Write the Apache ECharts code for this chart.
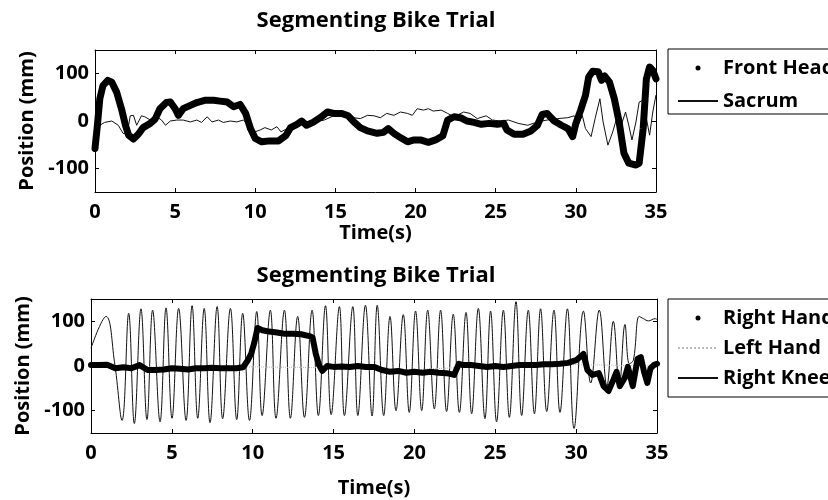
<!DOCTYPE html>
<html>
<head>
<meta charset="utf-8">
<script src="https://cdn.jsdelivr.net/npm/echarts@6/dist/echarts.min.js"></script>
<style>html,body{margin:0;padding:0;background:#fff;}#c{width:828px;height:500px;}</style>
</head>
<body>
<div id="c"></div>
<script>
// ---- data ----
var titles = ['Segmenting Bike Trial', 'Segmenting Bike Trial'];
var xTicks = [0, 5, 10, 15, 20, 25, 30, 35];
var yTicks = [-100, 0, 100];

var frontHeadT = [0,0.15,0.3,0.5,0.8,1.05,1.35,1.65,1.9,2.1,2.4,2.7,3.0,3.45,3.75,4.05,4.45,4.7,5.0,5.2,5.5,5.95,6.35,6.9,7.4,7.8,8.25,8.65,9.05,9.4,9.7,10.0,10.4,10.9,11.45,11.9,12.2,12.6,12.9,13.2,13.6,14.05,14.5,14.9,15.4,15.8,16.15,16.55,17.0,17.6,18.0,18.3,18.65,19.05,19.5,19.9,20.3,20.8,21.25,21.7,22.0,22.4,22.8,23.2,23.65,24.1,24.6,25.1,25.5,25.7,26.15,26.7,27.2,27.6,27.9,28.2,28.65,29.1,29.5,29.8,30.0,30.3,30.6,30.8,31.05,31.4,31.6,31.8,32.1,32.4,32.7,33.0,33.3,33.75,33.95,34.2,34.4,34.6,34.8,35.0];
var frontHeadY = [-58,-9,47,75,86,82,61,26,-9,-30,-38,-28,-14,-5,4,26,39,40,26,12,26,33,39,44,44,42,40,30,35,16,-16,-37,-44,-42,-42,-31,-14,-7,0,-9,-3,7,19,16,16,11,-2,-14,-21,-26,-24,-16,-26,-35,-44,-40,-40,-45,-40,-31,2,9,7,0,-3,-7,-5,-7,-5,-19,-28,-28,-21,-9,14,16,0,-9,-16,-33,-5,23,54,93,105,104,86,95,82,47,-2,-68,-89,-93,-89,-16,89,114,107,89];

var sacrumT = [0,0.3,0.6,1.05,1.45,1.75,2.0,2.2,2.4,2.6,2.9,3.1,3.45,3.85,4.15,4.4,4.7,5.1,5.5,5.95,6.35,6.65,7.0,7.3,7.7,8.0,8.45,8.85,9.25,9.6,9.9,10.3,10.6,11.0,11.35,11.6,12.0,12.4,13.0,13.6,14.3,14.9,15.5,16.15,16.55,17.0,17.4,17.8,18.2,18.65,19.05,19.5,19.8,20.1,20.5,20.8,21.1,21.6,22.0,22.4,23.0,23.4,23.85,24.4,24.8,25.3,25.8,26.4,27.0,27.6,28.2,28.85,29.5,29.9,30.2,30.4,30.6,30.95,31.2,31.5,31.7,32.0,32.3,32.6,32.8,33.1,33.3,33.5,33.75,33.95,34.2,34.4,34.6,34.8,35.0];
var sacrumY = [-20,-9,-3,0,-9,-26,-28,11,12,-9,11,9,2,9,2,-9,0,2,2,-2,2,-3,9,-2,2,-3,0,-2,2,-9,-24,-19,-14,-19,-12,-23,-16,-9,-3,-2,2,11,9,7,5,12,11,7,16,12,19,16,12,26,23,26,21,23,16,9,19,16,5,11,2,0,2,-5,-9,-2,2,5,7,11,-5,12,-16,-33,5,47,-2,-51,-23,12,-12,19,-9,-40,-2,40,44,5,-30,19,55];

var rightHandT = [0,0.5,1.0,1.5,2.0,2.5,3.0,3.5,4.0,4.5,5,5.5,6,6.5,7,7.5,8,8.5,9,9.4,9.7,9.9,10.1,10.3,10.6,11,11.5,12,12.5,13,13.5,13.7,13.9,14.1,14.3,14.6,15,15.5,16,16.5,17,17.5,18,18.5,19,19.5,20,20.5,21,21.5,22,22.45,22.75,23,23.5,24,24.5,25,25.5,26,26.5,27,27.5,28,28.5,29,29.5,30,30.45,30.7,31.0,31.4,31.7,32.0,32.3,32.5,32.7,33.0,33.2,33.5,33.8,34.0,34.2,34.4,34.6,34.8,35];
var rightHandY = [2,2,3,-5,-3,-5,2,-9,-9,-8,-5,-6,-8,-5,-5,-4,-5,-5,-5,-3,13,27,53,85,80,77,75,72,72,71,67,64,27,2,-11,0,-2,-1,-2,0,-2,-2,-9,-13,-11,-15,-13,-15,-13,-15,-16,-20,5,2,2,0,-2,0,-2,0,2,2,2,4,4,5,7,13,27,-9,-20,-16,-45,-56,-31,-13,-45,-27,-2,-45,16,20,-13,-38,-5,2,5];

var leftHandT = [0,5,10,15,20,25,30,35];
var leftHandY = [0,-3,-2,-4,-8,0,3,0];

var rightKneeT = [0,0.93,1.45,1.92,2.33,2.68,3.09,3.46,3.81,4.27,4.64,5.01,5.42,5.88,6.25,6.6,7.0,7.36,7.8,8.14,8.62,9.01,9.38,9.8,10.25,10.58,11.09,11.44,11.96,12.33,12.78,13.2,13.67,14.06,14.5,14.85,15.36,15.67,16.19,16.5,16.97,17.38,17.7,18.1,18.49,18.86,19.31,19.68,20.07,20.45,20.82,21.23,21.62,21.99,22.4,22.78,23.19,23.54,23.95,24.36,24.71,25.08,25.5,25.87,26.28,26.63,27.04,27.42,27.8,28.18,28.63,29.0,29.46,29.87,30.45,30.9,31.43,31.9,32.3,32.67,33.02,33.29,33.54,33.9,34.16,34.47,34.88,35.0];
var rightKneeY = [40,111,10,-122,118,-129,128,-120,125,-125,130,-117,129,-122,135,-117,129,-127,133,-118,129,-120,118,-122,122,-111,125,-117,125,-117,111,-115,125,-111,135,-109,133,-111,133,-111,136,-112,136,-111,111,-100,115,-104,123,-100,125,-96,125,-102,116,-104,120,-107,129,-118,123,-125,125,-115,144,-111,125,-107,128,-102,125,-104,128,-140,123,-38,125,-45,100,-45,93,5,13,111,106,101,106,104];

// ---- build ----
function pairs(t, y) { return t.map(function (v, i) { return [v, y[i]]; }); }
var FONT = '"Open Sans", "DejaVu Sans", sans-serif';
var txt = { fontFamily: FONT, fontWeight: 'bold', color: '#000' };
function ts(size) { return Object.assign({ fontSize: size }, txt); }

function xAx(grid, pos, showLabel, nameGap) {
  return {
    gridIndex: grid, type: 'value', position: pos, min: 0, max: 35, interval: 5,
    axisLine: { show: true, onZero: false, lineStyle: { color: '#000', width: 1 } },
    axisTick: { show: true, inside: true, length: 4, lineStyle: { color: '#000' } },
    axisLabel: Object.assign({ show: showLabel, margin: 10, formatter: function (v) { return xTicks.indexOf(v) >= 0 ? String(v) : ''; } }, ts(20)),
    splitLine: { show: false },
    name: showLabel ? 'Time(s)' : '', nameLocation: 'middle', nameGap: nameGap,
    nameTextStyle: ts(20)
  };
}
function yAx(grid, pos, showLabel, nameGap) {
  return {
    gridIndex: grid, type: 'value', position: pos, min: -150, max: 150,
    axisLine: { show: true, onZero: false, lineStyle: { color: '#000', width: 1 } },
    axisTick: { show: true, inside: true, length: 4, customValues: yTicks, lineStyle: { color: '#000' } },
    axisLabel: Object.assign({ show: showLabel, margin: 6, customValues: yTicks }, ts(20)),
    splitLine: { show: false },
    name: showLabel ? 'Position (mm)' : '', nameLocation: 'middle', nameRotate: 90, nameGap: nameGap,
    nameTextStyle: ts(20)
  };
}

function lineS(name, t, y, xi, yi, w, extra) {
  return Object.assign({
    name: name, type: 'line', xAxisIndex: xi, yAxisIndex: yi,
    data: pairs(t, y), symbol: 'none', showSymbol: false,
    lineStyle: { color: '#000', width: w, join: 'round', cap: 'round' },
    itemStyle: { color: '#000' }, animation: false, silent: true
  }, extra || {});
}

var hideDot = { opacity: 0 };
var chart = echarts.init(document.getElementById('c'), null, { renderer: 'canvas' });
chart.setOption({
  backgroundColor: '#fff',
  animation: false,
  title: [
    { text: titles[0], left: 376, top: 10, textAlign: 'center', padding: 0, textStyle: ts(22) },
    { text: titles[1], left: 376, top: 265, textAlign: 'center', padding: 0, textStyle: ts(22) }
  ],
  legend: [
    { orient: 'vertical', left: 668, top: 49, padding: [9, 14, 3, 9], itemGap: 13,
      itemWidth: 40, itemHeight: 5, borderColor: '#000', borderWidth: 1, selectedMode: false,
      textStyle: ts(20),
      data: [{ name: 'Front Head', icon: 'circle' }, { name: 'Sacrum', itemStyle: hideDot }] },
    { orient: 'vertical', left: 668, top: 299, padding: [9, 14, 9, 9], itemGap: 10,
      itemWidth: 40, itemHeight: 5, borderColor: '#000', borderWidth: 1, selectedMode: false,
      textStyle: ts(20),
      data: [{ name: 'Right Hand', icon: 'circle' }, { name: 'Left Hand', itemStyle: hideDot }, { name: 'Right Knee', itemStyle: hideDot }] }
  ],
  grid: [
    { left: 95, top: 50, width: 561, height: 142, show: false },
    { left: 91, top: 299, width: 566, height: 134, show: false }
  ],
  xAxis: [xAx(0, 'bottom', true, 23), xAx(0, 'top', false, 0), xAx(1, 'bottom', true, 45), xAx(1, 'top', false, 0)],
  yAxis: [yAx(0, 'left', true, 58), yAx(0, 'right', false, 0), yAx(1, 'left', true, 54), yAx(1, 'right', false, 0)],
  series: [
    lineS('Sacrum', sacrumT, sacrumY, 0, 0, 1, { lineStyle: { color: '#111', width: 1 } }),
    lineS('Front Head', frontHeadT, frontHeadY, 0, 0, 7, { z: 3 }),
    lineS('Right Knee', rightKneeT, rightKneeY, 2, 2, 1, { smooth: 0.4, lineStyle: { color: '#111', width: 1 } }),
    lineS('Left Hand', leftHandT, leftHandY, 2, 2, 1, { lineStyle: { color: '#bbb', width: 1, type: 'dotted' }, itemStyle: { color: '#bbb' } }),
    lineS('Right Hand', rightHandT, rightHandY, 2, 2, 6, { z: 3 })
  ]
});
</script>
</body>
</html>
